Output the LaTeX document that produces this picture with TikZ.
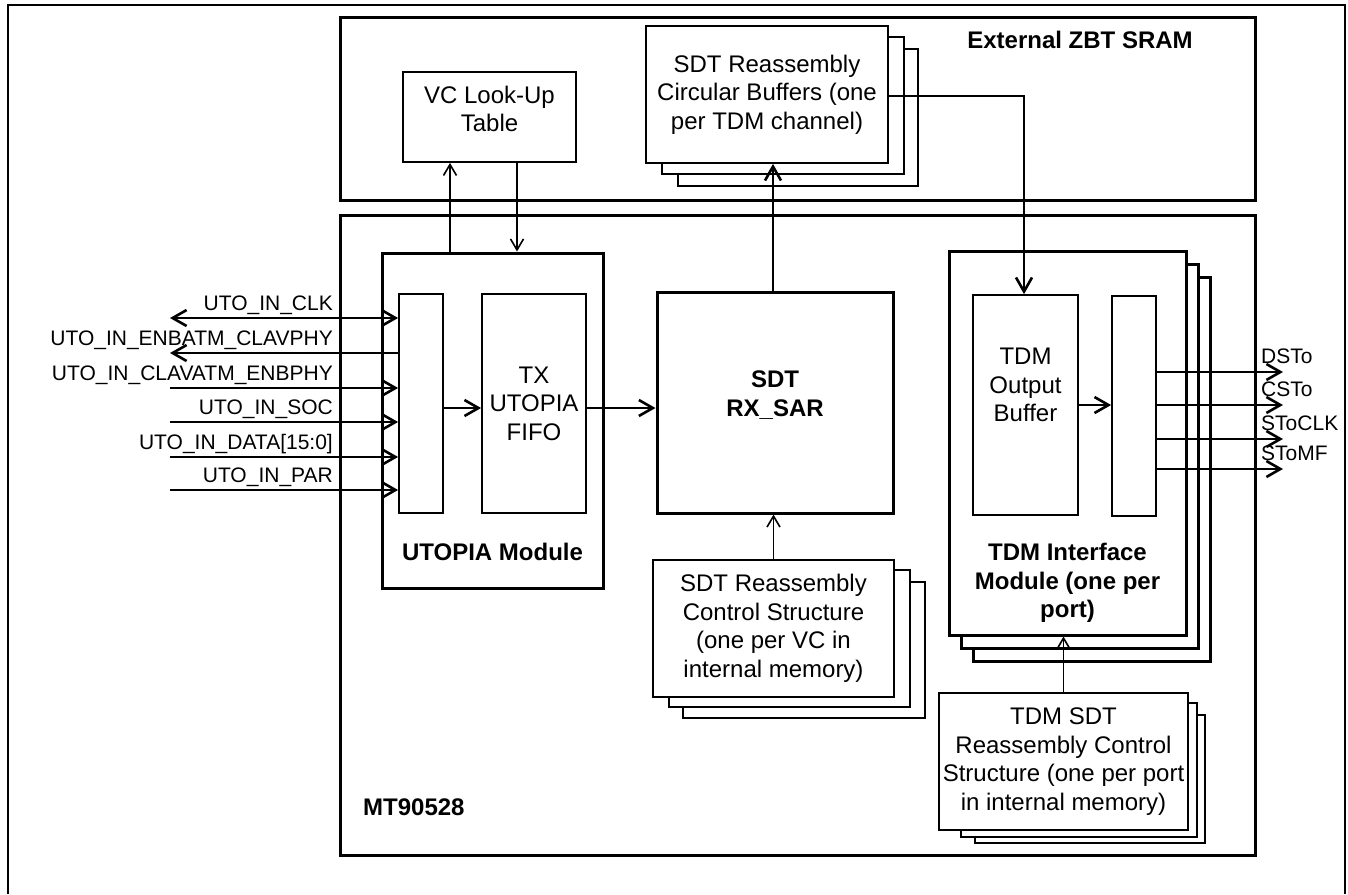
\documentclass[tikz,border=0pt]{standalone}
\usepackage{fontspec}
\setmainfont{Liberation Sans}
\usetikzlibrary{arrows.meta,calc}
\newcommand\boxfont{\fontsize{24}{28.5}\selectfont}
\newcommand\sigfont{\fontsize{21}{24}\selectfont}

\begin{document}
\begin{tikzpicture}[x=1pt,y=-1pt,
    >={Straight Barb[length=14pt,width=16pt]},
    frame/.style={line width=2.2pt},
    block/.style={draw, line width=3pt},
    bigblock/.style={draw, line width=3pt, fill=white, inner sep=0pt, align=center, font=\boxfont},
    subblock/.style={draw, line width=1.8pt, fill=white, inner sep=0pt, align=center, font=\boxfont},
    copybox/.style={draw, line width=1.8pt, fill=white},
    copybig/.style={draw, line width=3pt, fill=white},
    boxtext/.style={align=center, inner sep=0pt, font=\boxfont},
    title/.style={align=center, inner sep=0pt, font=\boxfont\bfseries},
    signal/.style={inner sep=0pt, font=\sigfont},
    bus/.style={line width=2.6pt},
    link/.style={line width=1.6pt, -{Straight Barb[length=11pt,width=13pt]}},
  ]
    \useasboundingbox (0,0) rectangle (1348,894);
    %% page frame (open at the bottom)
    \draw[frame] (8,894) to (8,5) to (1345,5) to (1345,894);

    %% External memory and device
    \node[block, minimum width=915, minimum height=183] (zbt) at (797.5,108.5) {};
    \node[block, minimum width=915, minimum height=640] (chip) at (797.5,535) {};
    \node[title] (zbtlbl) at (1080,40) {External ZBT SRAM};
    \node[title, anchor=west] (chiplbl) at (363,807) {MT90528};

    %% External ZBT SRAM contents
    \node[subblock, minimum width=173, minimum height=90] (vc) at (489.5,117) {};
    \node[boxtext] (vctxt) at (489.5,109) {VC Look-Up\\Table};
    \draw[copybox] (678,49) rectangle (918,186);
    \draw[copybox] (662,37) rectangle (904,174);
    \node[subblock, minimum width=242, minimum height=137] (cbuf) at (767,94.5)
        {SDT Reassembly\\Circular Buffers (one\\per TDM channel)};

    %% UTOPIA module
    \node[bigblock, minimum width=221, minimum height=335] (utop) at (492.5,420.5) {};
    \node[subblock, minimum width=44, minimum height=219] (inreg) at (421,403.5) {};
    \node[subblock, minimum width=104, minimum height=219] (fifo) at (534,403.5) {TX\\UTOPIA\\FIFO};
    \node[title] (utoplbl) at (492.5,552) {UTOPIA Module};

    %% SAR
    \node[bigblock, minimum width=236, minimum height=221] (sar) at (775,402.5) {};
    \node[title] (sartxt) at (775,395) {SDT\\RX\_SAR};
    \draw[copybox] (683,582) rectangle (925,718);
    \draw[copybox] (669,570) rectangle (910,707);
    \node[subblock, minimum width=241, minimum height=137] (ctrl) at (773.5,628.5)
        {SDT Reassembly\\Control Structure\\(one per VC in\\internal memory)};

    %% TDM interface
    \draw[copybig] (973,277) rectangle (1210,661);
    \draw[copybig] (961,264) rectangle (1198,648);
    \node[bigblock, minimum width=237, minimum height=384] (tdmif) at (1067.5,443) {};
    \node[subblock, minimum width=105, minimum height=220] (obuf) at (1025.5,405) {};
    \node[boxtext] (obuftxt) at (1025.5,385) {TDM\\Output\\Buffer};
    \node[subblock, minimum width=44, minimum height=220] (oreg) at (1134,406) {};
    \node[title] (tdmiflbl) at (1067.5,583) {TDM Interface\\Module (one per\\port)};
    \draw[copybox] (975,715) rectangle (1205,843);
    \draw[copybox] (961,703) rectangle (1197,837);
    \node[subblock, minimum width=249, minimum height=137] (tsc) at (1063.5,761.5)
        {TDM SDT\\Reassembly Control\\Structure (one per port\\in internal memory)};

    %% Internal data paths
    \draw[link] (utop.north -| 450,0) to (vc.south -| 450,0);
    \draw[link] (vc.south -| 517,0) to (utop.north -| 517,0);
    \draw[bus, ->] (sar.north -| 773,0) to (cbuf.south -| 773,0);
    \draw[bus, ->] (cbuf.east |- 0,96) -| (obuf.north -| 1024,0);
    \draw[bus, ->] (inreg.east |- 0,408) to (fifo.west |- 0,408);
    \draw[bus, ->] (fifo.east |- 0,408) to (sar.west |- 0,408);
    \draw[bus, ->] (obuf.east) to (oreg.west |- obuf.east);
    \draw[link] (ctrl.north) to (ctrl.north |- sar.south);
    \draw[link] (tsc.north) to (tsc.north |- tdmif.south);

    %% UTOPIA pins
    \foreach \y/\txt/\dir [count=\i] in {318/UTO\_IN\_CLK/<->, 353/UTO\_IN\_ENBATM\_CLAVPHY/<-,
        388/UTO\_IN\_CLAVATM\_ENBPHY/->, 422/UTO\_IN\_SOC/->, 457/{UTO\_IN\_DATA[15:0]}/->, 490/UTO\_IN\_PAR/->}
    {
        \coordinate (pin\i) at (170,\y);
        \draw[bus, \dir] (pin\i) to (pin\i -| inreg.west);
        \node[signal, anchor=base east] (pinlbl\i) at (333,\y-7.5) {\txt};
    }

    %% TDM pins
    \foreach \y/\txt [count=\i] in {372/DSTo, 405/CSTo, 439/SToCLK, 469/SToMF}
    {
        \coordinate (tdmpin\i) at (1283,\y);
        \draw[bus, ->] (oreg.east |- tdmpin\i) to (tdmpin\i);
        \node[signal, anchor=base west] (tdmlbl\i) at (1261,\y-9) {\txt};
    }
\end{tikzpicture}
\end{document}
